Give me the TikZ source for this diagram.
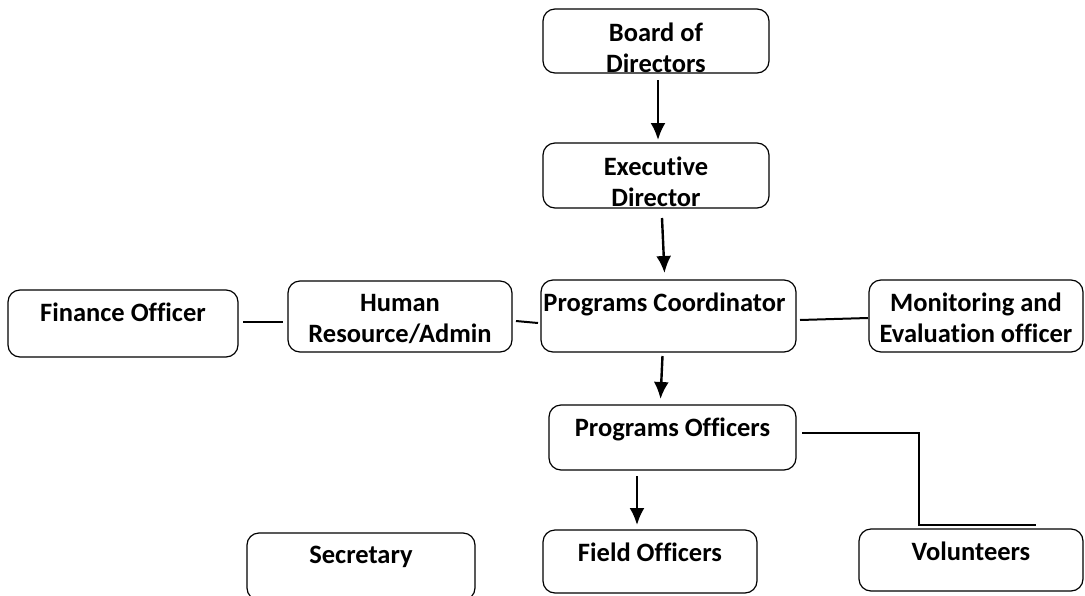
\documentclass[tikz,border=0pt]{standalone}
\usepackage{fontspec}
\setmainfont[Ligatures=NoCommon]{Carlito}
\usetikzlibrary{calc,arrows.meta}
\tikzset{box/.style={draw,rounded corners=12pt,line width=1.2pt,inner sep=0pt,outer sep=0pt},
txt/.style={anchor=north,inner sep=0pt,outer sep=0pt,align=center,font=\fontsize{26.5}{31}\selectfont\bfseries},
arr/.style={-{Latex[length=17pt,width=15pt]},line width=2.4pt},
link/.style={line width=2pt}}

\begin{document}
\begin{tikzpicture}[x=1pt,y=-1pt]
\useasboundingbox (0,0) rectangle (1085,595);
% boxes
\node[box,minimum width=226,minimum height=64] (bod) at (656,41) {};
\node[box,minimum width=226,minimum height=65] (ed) at (656,175.5) {};
\node[box,minimum width=230,minimum height=67] (fin) at (123,323.5) {};
\node[box,minimum width=224,minimum height=71] (hr) at (400,316.5) {};
\node[box,minimum width=255,minimum height=72] (pc) at (668.5,316) {};
\node[box,minimum width=214,minimum height=72] (me) at (976,316) {};
\node[box,minimum width=247,minimum height=65] (po) at (672.5,437.5) {};
\node[box,minimum width=228,minimum height=67] (sec) at (361,566.5) {};
\node[box,minimum width=214,minimum height=63] (fo) at (650,561.5) {};
\node[box,minimum width=224,minimum height=62] (vol) at (971,560) {};
% texts
\node[txt] (bodtxt) at ($(bod.north)+(0,14)$) {Board of\\Directors};
\node[txt] (edtxt) at ($(ed.north)+(0,14)$) {Executive\\Director};
\node[txt] (fintxt) at ($(fin.north)+(0,13)$) {Finance Officer};
\node[txt] (hrtxt) at ($(hr.north)+(0,13)$) {Human\\Resource/Admin};
\node[txt] (pctxt) at ($(pc.north)+(-4,13)$) {Programs Coordinator};
\node[txt] (metxt) at ($(me.north)+(0,13)$) {Monitoring and\\Evaluation officer};
\node[txt] (potxt) at ($(po.north)+(0,13)$) {Programs Officers};
\node[txt] (sectxt) at ($(sec.north)+(0,13)$) {Secretary};
\node[txt] (fotxt) at ($(fo.north)+(0,13)$) {Field Officers};
\node[txt] (voltxt) at ($(vol.north)+(0,13)$) {Volunteers};
% arrows
\draw[arr] ($(bod.south)+(2,7)$) -- ($(ed.north)+(2,-3)$);
\draw[arr] ($(ed.south)+(6,10)$) -- ($(pc.north)+(-4,-7)$);
\draw[arr] ($(pc.south)+(-6,4)$) -- ($(po.north)+(-12,-6)$);
\draw[arr] ($(po.south)+(-35.5,6)$) -- ($(fo.north)+(-13,-5)$);
% links
\draw[link] ($(fin.east)+(5,-1.5)$) -- ($(hr.west)+(-5,5.5)$);
\draw[link] ($(hr.east)+(4,4.5)$) -- ($(pc.west)+(-3,7)$);
\draw[link] ($(pc.east)+(4,4)$) -- ($(me.west)+(-1,2)$);
\draw[link] ($(po.east)+(6,-4.5)$) -| ($(vol.north)+(-52,-4)$) -- ($(vol.north)+(65,-4)$);
\end{tikzpicture}
\end{document}
